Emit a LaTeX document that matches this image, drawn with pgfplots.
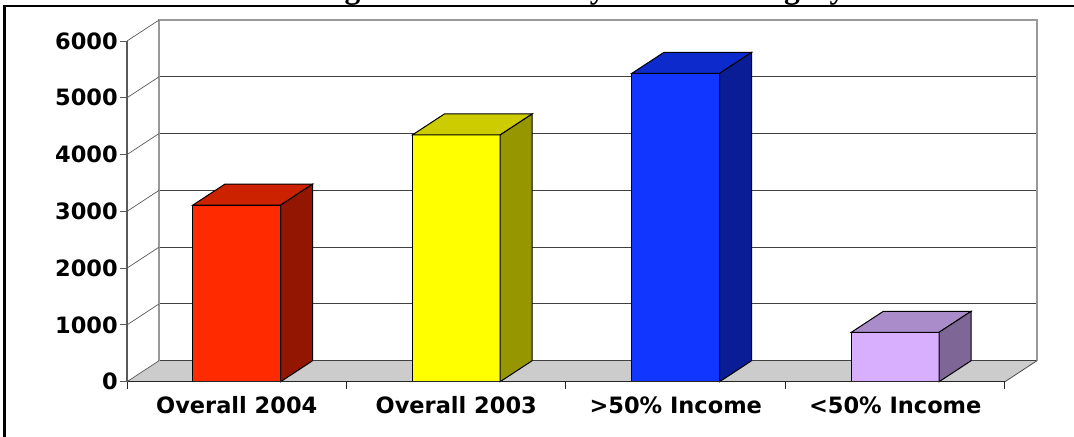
\documentclass[border=0pt]{standalone}
\usepackage{fontspec}
\setmainfont{DejaVu Sans}
\newfontfamily\titlefont{Liberation Serif}
\usepackage{pgfplots}
\pgfplotsset{compat=1.18}
\definecolor{rF}{HTML}{FF2A00}\definecolor{rT}{HTML}{CC2200}\definecolor{rS}{HTML}{921600}
\definecolor{yF}{HTML}{FFFF00}\definecolor{yT}{HTML}{CCCC00}\definecolor{yS}{HTML}{969600}
\definecolor{bF}{HTML}{1036FF}\definecolor{bT}{HTML}{0D2BCC}\definecolor{bS}{HTML}{0A1D96}
\definecolor{pF}{HTML}{D8AFFF}\definecolor{pT}{HTML}{AA8CCA}\definecolor{pS}{HTML}{7E6796}
\definecolor{floorC}{HTML}{CCCCCC}
\begin{document}
\begin{tikzpicture}
\useasboundingbox (0,0) rectangle (1074bp,437bp);
\begin{axis}[
  at={(127bp,55.3bp)}, anchor=south west,
  scale only axis, width=910bp, height=361.7bp,
  xmin=-0.5, xmax=3.646, ymin=0, ymax=6370,
  clip=false,
  axis x line*=bottom, axis y line*=left,
  axis line style={draw=none},
  ytick={0,1000,...,6000},
  xtick={0,1,2,3},
  xticklabels={Overall 2004,Overall 2003,{>50\% Income},{<50\% Income}},
  minor xtick={-0.5,0.5,1.5,2.5,3.5},
  tick align=outside,
  major tick length=7bp, minor tick length=7bp,
  major x tick style={draw=none},
  minor x tick style={draw=black!85, line width=1bp},
  major y tick style={draw=black!65, line width=1bp},
  ticklabel style={font=\fontsize{22.5bp}{27bp}\selectfont\bfseries},
  /pgf/number format/assume math mode=true,
  /pgf/number format/set thousands separator={},
  scaled y ticks=false,
  yticklabel style={inner xsep=2bp},
  xticklabel style={inner ysep=8bp},
  no markers,
]
% floor
\addplot[fill=floorC, draw=none] coordinates {(-0.5,0) (3.5,0) (3.646,370) (-0.354,370)} -- cycle;
% back wall gridlines
\addplot[black!75, line width=1bp] coordinates {(-0.354,370) (3.646,370)};
\addplot[black!75, line width=1bp] coordinates {(-0.354,1370) (3.646,1370)};
\addplot[black!75, line width=1bp] coordinates {(-0.354,2370) (3.646,2370)};
\addplot[black!75, line width=1bp] coordinates {(-0.354,3370) (3.646,3370)};
\addplot[black!75, line width=1bp] coordinates {(-0.354,4370) (3.646,4370)};
\addplot[black!75, line width=1bp] coordinates {(-0.354,5370) (3.646,5370)};
% back wall border
\addplot[black!40, line width=1.2bp] coordinates {(-0.354,370) (-0.354,6370) (3.646,6370) (3.646,370)};
% left diagonals
\addplot[black!65, line width=0.7bp] coordinates {(-0.5,0) (-0.354,370)};
\addplot[black!65, line width=0.7bp] coordinates {(-0.5,1000) (-0.354,1370)};
\addplot[black!65, line width=0.7bp] coordinates {(-0.5,2000) (-0.354,2370)};
\addplot[black!65, line width=0.7bp] coordinates {(-0.5,3000) (-0.354,3370)};
\addplot[black!65, line width=0.7bp] coordinates {(-0.5,4000) (-0.354,4370)};
\addplot[black!65, line width=0.7bp] coordinates {(-0.5,5000) (-0.354,5370)};
\addplot[black!65, line width=0.7bp] coordinates {(-0.5,6000) (-0.354,6370)};
% floor right edge
\addplot[black!70, line width=0.8bp] coordinates {(3.5,0) (3.646,370)};
% bars: front faces, tops, sides
\addplot[ybar, bar width=0.4, bar shift=0pt, fill=rF, draw=black, line width=1bp] coordinates {(0,3110)};
\addplot[fill=rT, draw=black, line width=1bp] coordinates {(-0.2,3110) (0.2,3110) (0.346,3480) (-0.054,3480)} -- cycle;
\addplot[fill=rS, draw=black, line width=1bp] coordinates {(0.2,0) (0.2,3110) (0.346,3480) (0.346,370)} -- cycle;
\addplot[ybar, bar width=0.4, bar shift=0pt, fill=yF, draw=black, line width=1bp] coordinates {(1,4345)};
\addplot[fill=yT, draw=black, line width=1bp] coordinates {(0.8,4345) (1.2,4345) (1.346,4715) (0.946,4715)} -- cycle;
\addplot[fill=yS, draw=black, line width=1bp] coordinates {(1.2,0) (1.2,4345) (1.346,4715) (1.346,370)} -- cycle;
\addplot[ybar, bar width=0.4, bar shift=0pt, fill=bF, draw=black, line width=1bp] coordinates {(2,5430)};
\addplot[fill=bT, draw=black, line width=1bp] coordinates {(1.8,5430) (2.2,5430) (2.346,5800) (1.946,5800)} -- cycle;
\addplot[fill=bS, draw=black, line width=1bp] coordinates {(2.2,0) (2.2,5430) (2.346,5800) (2.346,370)} -- cycle;
\addplot[ybar, bar width=0.4, bar shift=0pt, fill=pF, draw=black, line width=1bp] coordinates {(3,870)};
\addplot[fill=pT, draw=black, line width=1bp] coordinates {(2.8,870) (3.2,870) (3.346,1240) (2.946,1240)} -- cycle;
\addplot[fill=pS, draw=black, line width=1bp] coordinates {(3.2,0) (3.2,870) (3.346,1240) (3.346,370)} -- cycle;
% front axes
\addplot[black!85, line width=1.2bp] coordinates {(-0.5,0) (3.5,0)};
\addplot[black!65, line width=1.2bp] coordinates {(-0.5,0) (-0.5,6000)};
\end{axis}
\node[anchor=base, inner sep=0pt, font=\titlefont\bfseries\fontsize{31.5bp}{36bp}\selectfont] at (555bp,438.8bp) {Average Waitlist Time by Income Category};
\draw[line width=2.4bp] (4.5bp,0) -- (4.5bp,430.7bp) -- (1074bp,430.7bp);
\end{tikzpicture}
\end{document}
